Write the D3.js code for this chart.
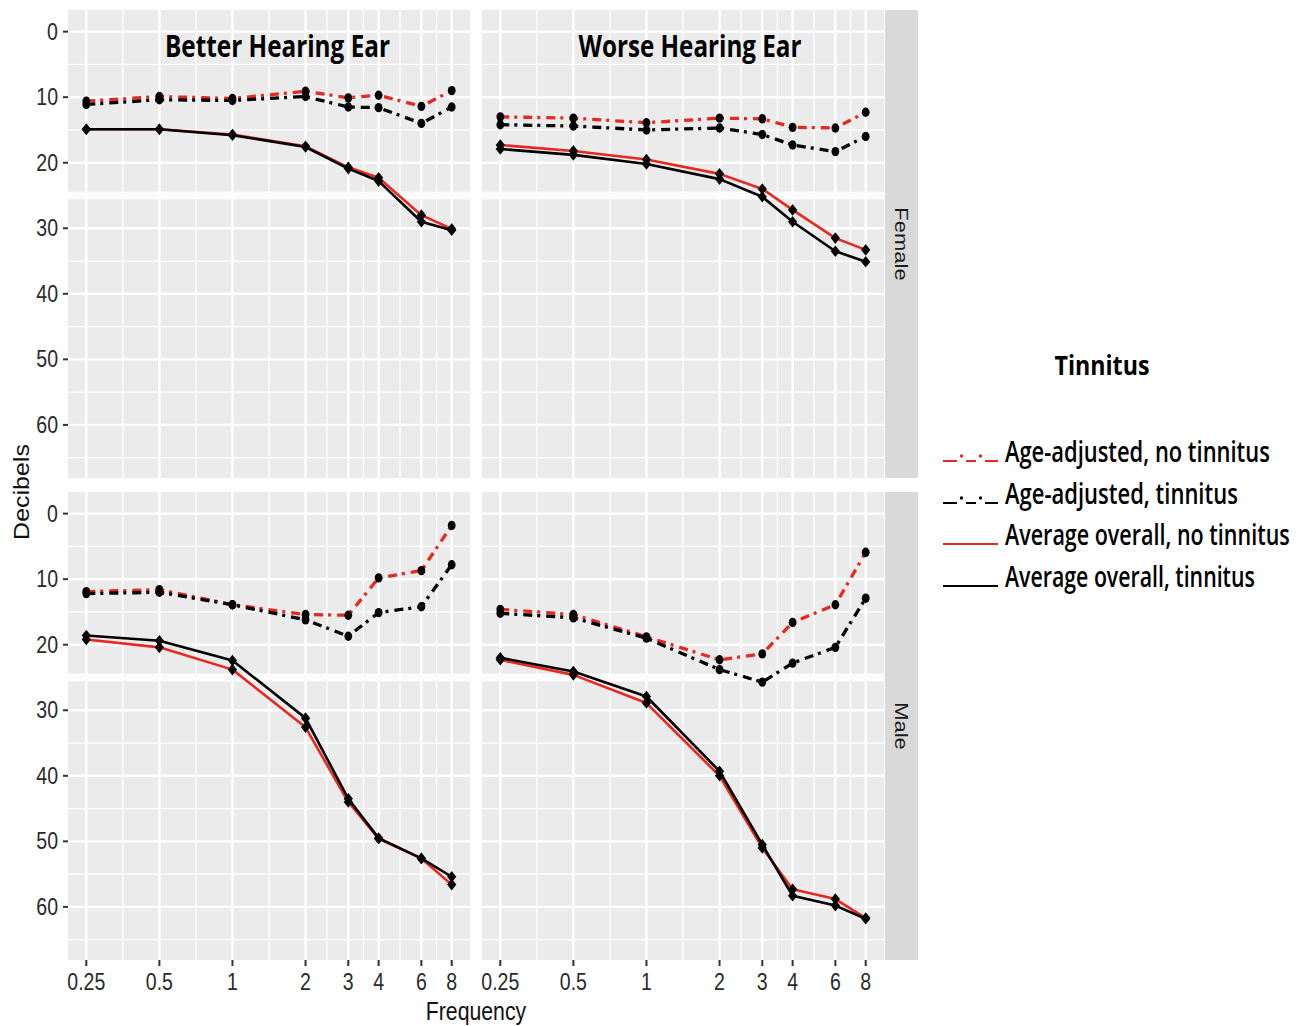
<!DOCTYPE html>
<html><head><meta charset="utf-8">
<script src="https://cdn.jsdelivr.net/npm/d3@7"></script>
<style>body{margin:0;background:#fff}svg{display:block}</style>
</head><body><svg id="c" width="1304" height="1026"></svg>
<script>
// ---------- DATA ----------
const frequencies = [0.25, 0.5, 1, 2, 3, 4, 6, 8];
const freqLabels = ["0.25", "0.5", "1", "2", "3", "4", "6", "8"];
const yTicks = [0, 10, 20, 30, 40, 50, 60];
const ears = ["Better Hearing Ear", "Worse Hearing Ear"];
const sexes = ["Female", "Male"];
const groups = ["Age-adjusted, no tinnitus", "Age-adjusted, tinnitus",
                "Average overall, no tinnitus", "Average overall, tinnitus"];

const betterFemaleAdjNo  = [10.6, 9.9, 10.2, 9.1, 10.1, 9.7, 11.4, 9.0];
const betterFemaleAdjTin = [11.1, 10.4, 10.5, 9.9, 11.5, 11.6, 14.0, 11.5];
const betterFemaleAvgNo  = [14.9, 14.9, 15.7, 17.5, 20.7, 22.3, 28.0, 30.1];
const betterFemaleAvgTin = [14.9, 14.9, 15.8, 17.6, 20.9, 22.8, 29.0, 30.3];

const worseFemaleAdjNo  = [13.0, 13.2, 13.9, 13.2, 13.3, 14.6, 14.7, 12.3];
const worseFemaleAdjTin = [14.2, 14.4, 15.0, 14.7, 15.7, 17.3, 18.3, 16.0];
const worseFemaleAvgNo  = [17.3, 18.2, 19.5, 21.7, 24.0, 27.2, 31.5, 33.3];
const worseFemaleAvgTin = [17.9, 18.8, 20.2, 22.5, 25.2, 29.0, 33.5, 35.1];

const betterMaleAdjNo  = [11.9, 11.6, 13.9, 15.4, 15.5, 9.8, 8.7, 1.8];
const betterMaleAdjTin = [12.2, 12.0, 13.9, 16.2, 18.7, 15.1, 14.2, 7.8];
const betterMaleAvgNo  = [19.2, 20.4, 23.8, 32.6, 44.0, 49.6, 52.6, 56.6];
const betterMaleAvgTin = [18.6, 19.4, 22.4, 31.2, 43.5, 49.5, 52.6, 55.4];

const worseMaleAdjNo  = [14.6, 15.4, 18.8, 22.3, 21.4, 16.6, 13.9, 5.9];
const worseMaleAdjTin = [15.2, 15.9, 19.0, 23.8, 25.7, 22.8, 20.4, 12.9];
const worseMaleAvgNo  = [22.3, 24.6, 28.9, 40.0, 51.0, 57.3, 58.8, 61.7];
const worseMaleAvgTin = [22.0, 24.1, 27.9, 39.3, 50.5, 58.3, 59.8, 61.8];

const table = {
  "Female|Better Hearing Ear": [betterFemaleAdjNo, betterFemaleAdjTin, betterFemaleAvgNo, betterFemaleAvgTin],
  "Female|Worse Hearing Ear":  [worseFemaleAdjNo, worseFemaleAdjTin, worseFemaleAvgNo, worseFemaleAvgTin],
  "Male|Better Hearing Ear":   [betterMaleAdjNo, betterMaleAdjTin, betterMaleAvgNo, betterMaleAvgTin],
  "Male|Worse Hearing Ear":    [worseMaleAdjNo, worseMaleAdjTin, worseMaleAvgNo, worseMaleAvgTin]
};

// ---------- STYLE / LAYOUT ----------
const RED = "#e8281e";
const groupColor = [RED, "#000", RED, "#000"];
const groupDash = ["9,5,3,6", "9,5,3,6", null, null];
const groupWidth = [3.3, 3.3, 2.6, 2.6];
const groupPoint = ["circle", "circle", "diamond", "diamond"];

const colX = [[68, 470], [482, 884]];
const rowY = [[10, 478], [492, 960]];
const SX = 0.85;

const svg = d3.select("#c");
svg.append("rect").attr("width", 1304).attr("height", 1026).attr("fill", "#fff");

function txt(g, x, y, s, o) {
  o = o || {};
  const t = g.append("text")
    .attr("text-anchor", o.anchor || "start")
    .attr("font-family", o.family || "'Liberation Sans', Arial, sans-serif")
    .attr("font-size", o.size || 23)
    .attr("font-weight", o.weight || "normal")
    .attr("fill", o.fill || "#222")
    .text(s);
  let sx = o.sx || SX;
  if (o.fit) {
    const w = t.node().getComputedTextLength();
    if (w > 0) sx = o.fit / w;
  }
  t.attr("transform", `translate(${x},${y})` + (o.rot ? ` rotate(${o.rot}) scale(1,${SX})` : ` scale(${sx},1)`));
  return t;
}

const yDomain = [-3.3, 68.1];
const minorX = d3.range(frequencies.length - 1).map(i => Math.sqrt(frequencies[i] * frequencies[i + 1]));
const minorY = d3.range(5, 70, 10);
const thickBand = [25];

sexes.forEach((sex, r) => {
  const y = d3.scaleLinear().domain(yDomain).range([rowY[r][0], rowY[r][1]]);
  ears.forEach((ear, c) => {
    const x = d3.scaleLog().base(2).domain([0.25, 8]).range([colX[c][0] + 18.3, colX[c][1] - 18.3]);
    const g = svg.append("g");
    g.append("rect").attr("x", colX[c][0]).attr("y", rowY[r][0])
      .attr("width", colX[c][1] - colX[c][0]).attr("height", rowY[r][1] - rowY[r][0])
      .attr("fill", "#ebebeb");
    g.selectAll(".mny").data(minorY.filter(v => v > yDomain[0] && v < yDomain[1])).join("line")
      .attr("x1", colX[c][0]).attr("x2", colX[c][1]).attr("y1", d => y(d)).attr("y2", d => y(d))
      .attr("stroke", "#fff").attr("stroke-width", 1.2);
    g.selectAll(".mnx").data(minorX).join("line")
      .attr("y1", rowY[r][0]).attr("y2", rowY[r][1]).attr("x1", d => x(d)).attr("x2", d => x(d))
      .attr("stroke", "#fff").attr("stroke-width", 1.2);
    g.selectAll(".mjy").data(yTicks).join("line")
      .attr("x1", colX[c][0]).attr("x2", colX[c][1]).attr("y1", d => y(d)).attr("y2", d => y(d))
      .attr("stroke", "#fff").attr("stroke-width", 2.4);
    g.selectAll(".mjx").data(frequencies).join("line")
      .attr("y1", rowY[r][0]).attr("y2", rowY[r][1]).attr("x1", d => x(d)).attr("x2", d => x(d))
      .attr("stroke", "#fff").attr("stroke-width", 2.4);
    g.selectAll(".band").data(thickBand).join("line")
      .attr("x1", colX[c][0]).attr("x2", colX[c][1]).attr("y1", d => y(d)).attr("y2", d => y(d))
      .attr("stroke", "#fcfcfc").attr("stroke-width", 8);

    const series = table[sex + "|" + ear];
    const line = d3.line().x((d, i) => x(frequencies[i])).y(d => y(d));
    series.forEach((vals, k) => {
      g.append("path").attr("d", line(vals)).attr("fill", "none")
        .attr("stroke", groupColor[k]).attr("stroke-width", groupWidth[k])
        .attr("stroke-dasharray", groupDash[k]).attr("stroke-linejoin", "round");
    });
    series.forEach((vals, k) => {
      vals.forEach((v, i) => {
        const px = x(frequencies[i]), py = y(v);
        if (groupPoint[k] === "circle") {
          g.append("ellipse").attr("cx", px).attr("cy", py).attr("rx", 3.9).attr("ry", 4.7).attr("fill", "#000");
        } else {
          g.append("path").attr("d", `M${px},${py - 5.8}L${px + 4.6},${py}L${px},${py + 5.8}L${px - 4.6},${py}Z`).attr("fill", "#000");
        }
      });
    });

    if (c === 0) {
      yTicks.forEach(t => {
        g.append("line").attr("x1", 63).attr("x2", 68).attr("y1", y(t)).attr("y2", y(t))
          .attr("stroke", "#333").attr("stroke-width", 2);
        txt(g, 58, y(t) + 8, String(t), { anchor: "end", size: 23, fill: "#2a2a2a" });
      });
    }
    if (r === 1) {
      frequencies.forEach((f, i) => {
        g.append("line").attr("x1", x(f)).attr("x2", x(f)).attr("y1", 960).attr("y2", 966)
          .attr("stroke", "#333").attr("stroke-width", 2);
        txt(g, x(f), 990, freqLabels[i], { anchor: "middle", size: 23, fill: "#2a2a2a" });
      });
    }
  });
  svg.append("rect").attr("x", 885).attr("y", rowY[r][0]).attr("width", 33)
    .attr("height", rowY[r][1] - rowY[r][0]).attr("fill", "#d9d9d9");
  txt(svg, 895, (rowY[r][0] + rowY[r][1]) / 2, sex, { rot: 90, anchor: "middle", size: 22, fill: "#1a1a1a" });
});

const titleFont = "'Open Sans', 'Liberation Sans', sans-serif";
txt(svg, 277.5, 57, ears[0], { anchor: "middle", size: 30, weight: 700, family: titleFont, fill: "#000", fit: 225 });
txt(svg, 690, 57, ears[1], { anchor: "middle", size: 30, weight: 700, family: titleFont, fill: "#000", fit: 223 });

txt(svg, 476, 1020, "Frequency", { anchor: "middle", size: 25, fill: "#111" });
txt(svg, 29, 492, "Decibels", { rot: -90, anchor: "middle", size: 25, fill: "#111" });

const lg = svg.append("g");
txt(lg, 1102, 375, "Tinnitus", { anchor: "middle", size: 27, weight: 700, family: titleFont, fill: "#000", fit: 95 });
const legBase = [462, 504, 545, 587];
const legLen = [265, 233, 285, 250];
groups.forEach((name, k) => {
  const by = legBase[k];
  if (groupDash[k]) {
    [[943, 957], [966, 976], [985, 998]].forEach(s => {
      lg.append("line").attr("x1", s[0]).attr("x2", s[1]).attr("y1", by - 1).attr("y2", by - 1)
        .attr("stroke", groupColor[k]).attr("stroke-width", 2);
    });
    [961.5, 980.5].forEach(cx => lg.append("circle").attr("cx", cx).attr("cy", by - 6).attr("r", 1.7).attr("fill", groupColor[k]));
  } else {
    lg.append("line").attr("x1", 943).attr("x2", 998).attr("y1", by - 1).attr("y2", by - 1)
      .attr("stroke", groupColor[k]).attr("stroke-width", 2);
  }
  txt(lg, 1005, by, name, { size: 29, weight: 600, family: titleFont, fill: "#000", fit: legLen[k] });
});
</script></body></html>
